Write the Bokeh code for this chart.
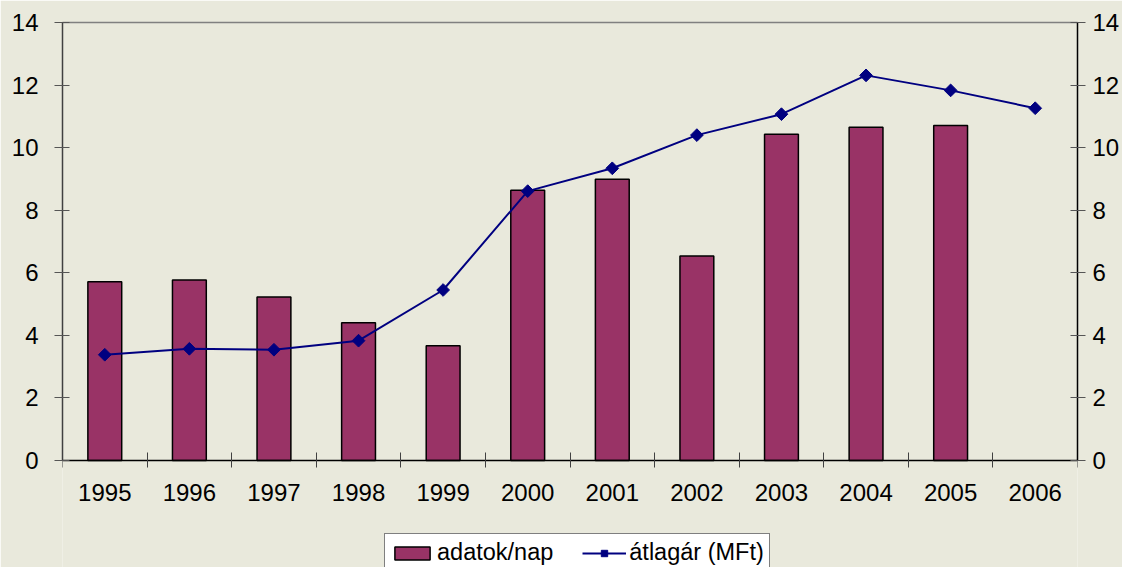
from bokeh.plotting import figure
from bokeh.models import (Range1d, LinearAxis, FixedTicker, Legend, LegendItem)
from bokeh.embed import file_html
from bokeh.resources import INLINE

years = ["1995", "1996", "1997", "1998", "1999", "2000", "2001", "2002",
         "2003", "2004", "2005", "2006"]
adatok_nap = [5.71, 5.77, 5.23, 4.40, 3.67, 8.64, 8.99, 6.54, 10.43, 10.65, 10.71, None]
atlagar = [3.38, 3.57, 3.54, 3.83, 5.45, 8.61, 9.34, 10.40, 11.07, 12.31, 11.83, 11.26]
y_ticks = [0, 2, 4, 6, 8, 10, 12, 14]
series_names = ["adatok/nap", "átlagár (MFt)"]

FONT = "Liberation Sans"
BG = "#E9E9DC"
BAR_COLOR = "#993366"
LINE_COLOR = "#000080"

# layout (pixels)
W, H = 1122, 567
TOP, LEFT, RIGHT = 22, 62, 42
ZERO_PX = 460                      # pixel row of value 0
Y_MAX = 14
y_lo = -Y_MAX * (H - ZERO_PX) / (ZERO_PX - TOP)   # frame reaches the bottom edge

xs = [i + 0.5 for i in range(len(years))]
bar_x = [x for x, v in zip(xs, adatok_nap) if v is not None]
bar_top = [v for v in adatok_nap if v is not None]

p = figure(width=W, height=H, output_backend="svg", toolbar_location=None,
           x_range=Range1d(0, len(years)), y_range=Range1d(y_lo, Y_MAX),
           min_border_left=LEFT, min_border_right=RIGHT, min_border_top=TOP,
           min_border_bottom=0, y_axis_location=None, x_axis_location=None)
p.background_fill_color = BG
p.border_fill_color = BG
p.outline_line_color = None
p.grid.visible = False

bars = p.vbar(x=bar_x, top=bar_top, width=0.4, fill_color=BAR_COLOR,
              line_color="black", line_width=1.5)
line = p.line(xs, atlagar, line_color=LINE_COLOR, line_width=2)
pts = p.scatter(xs, atlagar, marker="square", angle=0.785398, size=9,
                fill_color=LINE_COLOR, line_color=LINE_COLOR)

# thin grey line along the top of the plot area
top_line = LinearAxis(ticker=FixedTicker(ticks=[], minor_ticks=[]))
top_line.axis_line_color = "#808080"
top_line.axis_line_width = 1.5
top_line.major_tick_in = 0
top_line.major_tick_out = 0
top_line.major_label_standoff = 0
p.add_layout(top_line, "above")

# category axis at value 0: labels at centres, ticks at boundaries
xaxis = LinearAxis(ticker=FixedTicker(ticks=xs, minor_ticks=list(range(len(years) + 1))),
                   major_label_overrides={x: y for x, y in zip(xs, years)},
                   fixed_location=0)
xaxis.major_tick_line_color = None
xaxis.major_tick_in = 0
xaxis.major_tick_out = 7
xaxis.minor_tick_line_color = "#404040"
xaxis.minor_tick_in = 8
xaxis.minor_tick_out = 7
xaxis.axis_line_color = "black"
xaxis.axis_line_width = 1.5
xaxis.major_label_text_font = FONT
xaxis.major_label_text_font_size = "24px"
xaxis.major_label_text_color = "black"
xaxis.major_label_standoff = 16
p.add_layout(xaxis, "below")

for side, standoff, color in (("left", 16, "#404040"), ("right", 7, "black")):
    ax = LinearAxis(ticker=FixedTicker(ticks=y_ticks, minor_ticks=[]),
                    bounds=(0, Y_MAX))
    ax.axis_line_color = color
    ax.axis_line_width = 1.5
    ax.major_tick_line_color = "#555555"
    ax.major_tick_in = 7
    ax.major_tick_out = 8
    ax.major_label_text_font = FONT
    ax.major_label_text_font_size = "24px"
    ax.major_label_text_color = "black"
    ax.major_label_standoff = standoff
    p.add_layout(ax, side)

legend = Legend(items=[LegendItem(label=series_names[0], renderers=[bars]),
                       LegendItem(label=series_names[1], renderers=[line, pts])],
                orientation="horizontal", location=(322, -5))
legend.label_text_font = FONT
legend.label_text_font_size = "23.5px"
legend.label_text_color = "black"
legend.glyph_width = 44
legend.glyph_height = 16
legend.label_standoff = 3
legend.spacing = 29
legend.padding = 5
legend.margin = 0
legend.border_line_color = "black"
legend.border_line_width = 1
legend.background_fill_color = "white"
legend.background_fill_alpha = 1
p.add_layout(legend, "center")

open("out.html", "w").write(file_html(p, INLINE))
